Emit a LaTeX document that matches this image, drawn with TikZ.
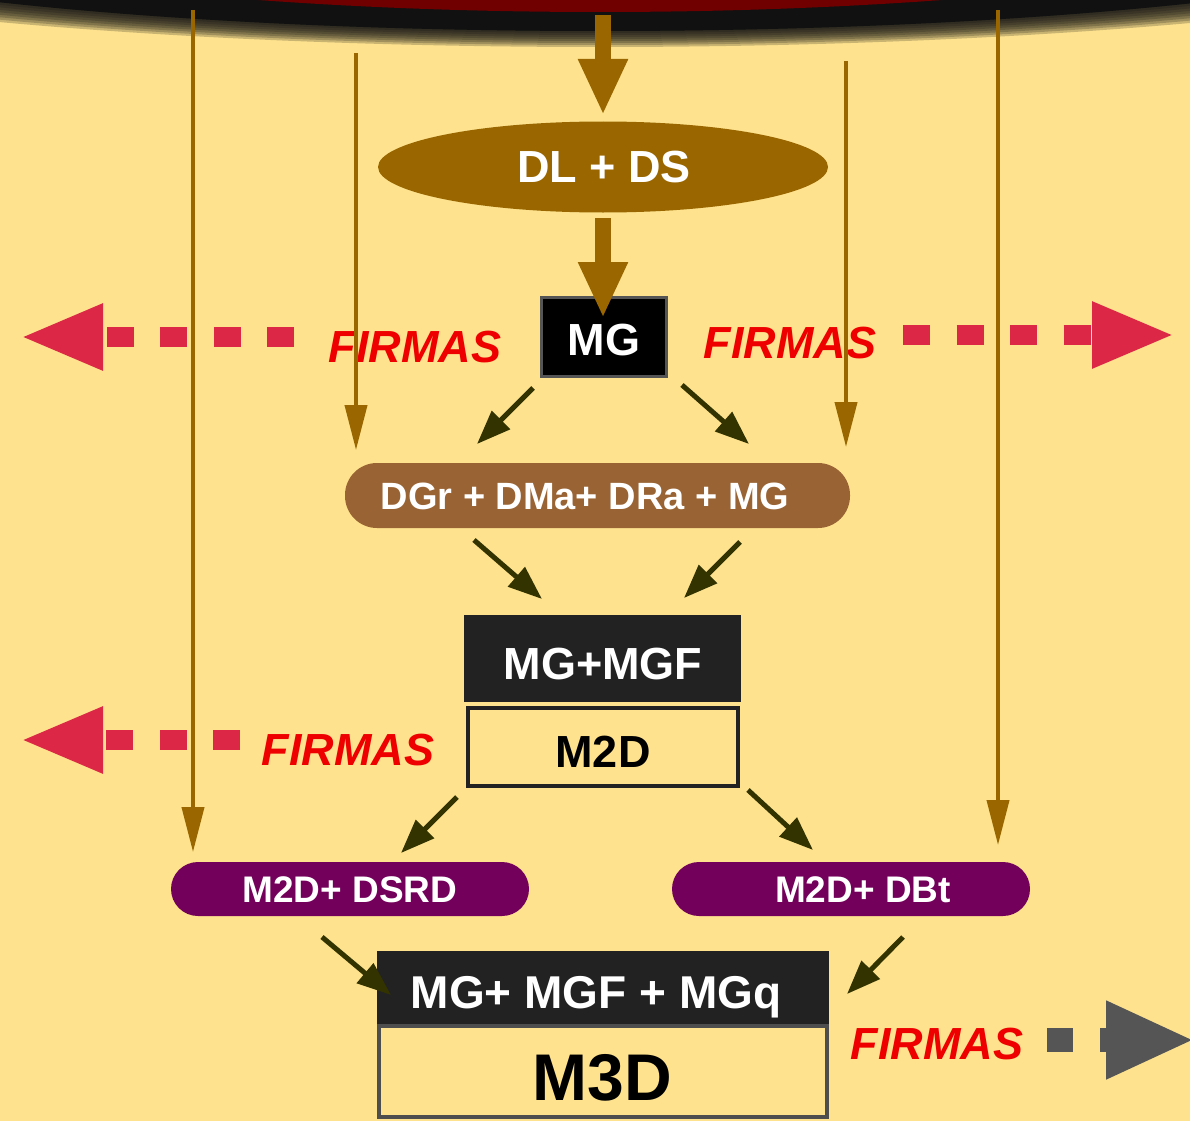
\documentclass[tikz,border=0pt]{standalone}
\usepackage{fontspec}
\setmainfont{Liberation Sans}
\usetikzlibrary{arrows.meta,shapes.geometric}
\definecolor{bg}{RGB}{254,226,142}
\definecolor{topred}{RGB}{112,0,0}
\definecolor{brn}{RGB}{153,102,0}
\definecolor{pillbrn}{RGB}{153,99,51}
\definecolor{purp}{RGB}{115,0,90}
\definecolor{olive}{RGB}{51,51,0}
\definecolor{redarr}{RGB}{220,40,70}
\definecolor{firmred}{RGB}{238,0,0}
\definecolor{grayarr}{RGB}{85,85,85}
\definecolor{dark}{RGB}{34,34,34}
\definecolor{shad}{RGB}{17,17,17}
\begin{document}
\begin{tikzpicture}[x=1pt,y=-1pt,
  txt/.style={inner sep=0pt, anchor=base, font=\bfseries},
  wtxt/.style={txt, text=white},
  firmas/.style={txt, text=firmred, font=\bfseries\itshape\fontsize{45}{50}\selectfont},
  thin/.style={draw=brn, line width=4pt, -{Triangle[width=22pt,length=45pt]}},
  thick/.style={draw=brn, line width=16pt, -{Triangle[width=46pt,length=56pt]}},
  small/.style={draw=olive, line width=5pt, -{Triangle[width=25pt,length=34pt]}},
  redline/.style={draw=redarr, line width=20pt, dash pattern=on 27pt off 26.5pt, -{Triangle[width=61pt,length=83pt]}},
  pill/.style={rounded corners=#1, inner sep=0pt},
]
\clip (0,0) rectangle (1190,1121);
\fill[bg] (0,0) rectangle (1190,1121);
% top shadow and red shape
\fill[shad] (600,-101) ellipse [x radius={132*7.3pt}, y radius=132pt];
\foreach \i in {0,...,8} {
  \fill[shad, opacity=0.22] (600,-101) ellipse [x radius={(132+2*\i)*7.3pt}, y radius={(132+2*\i)*1pt}];
}
\fill[topred] (600,-188) ellipse [x radius=1000pt, y radius=200pt];

% nodes
\node[ellipse, fill=brn, minimum width=450pt, minimum height=91pt, inner sep=0pt] (dlds) at (603,167) {};
\node[wtxt, font=\bfseries\fontsize{45}{50}\selectfont] (dldst) at (604,182) {DL + DS};

\node[draw=grayarr, line width=3pt, fill=black, minimum width=125pt, minimum height=79pt, inner sep=0pt] (mg) at (604,337) {};
\node[wtxt, font=\bfseries\fontsize{45}{50}\selectfont] (mgt) at (604,355) {MG};

\node[firmas] (fl1) at (415,362) {FIRMAS};
\node[firmas] (fr1) at (790,358) {FIRMAS};
\node[firmas] (fl2) at (348,765) {FIRMAS};
\node[firmas] (fr3) at (937,1059) {FIRMAS};

\node[pill=32pt, fill=pillbrn, minimum width=505pt, minimum height=65pt] (dgr) at (597.5,495.5) {};
\node[wtxt, font=\bfseries\fontsize{38}{44}\selectfont] (dgrt) at (585,509) {DGr + DMa+ DRa + MG};

\node[fill=dark, minimum width=277pt, minimum height=87pt, inner sep=0pt] (mgf) at (602.5,658.5) {};
\node[wtxt, font=\bfseries\fontsize{45}{50}\selectfont] (mgft) at (603,679) {MG+MGF};
\node[draw=dark, line width=4pt, fill=bg, minimum width=270pt, minimum height=78pt, inner sep=0pt] (m2d) at (603,747) {};
\node[txt, font=\bfseries\fontsize{45}{50}\selectfont] (m2dt) at (603,767) {M2D};

\node[pill=27pt, fill=purp, minimum width=358pt, minimum height=54pt] (dsrd) at (350,889) {};
\node[wtxt, font=\bfseries\fontsize{37}{42}\selectfont] (dsrdt) at (350,902) {M2D+ DSRD};
\node[pill=27pt, fill=purp, minimum width=358pt, minimum height=54pt] (dbt) at (851,889) {};
\node[wtxt, font=\bfseries\fontsize{37}{42}\selectfont] (dbtt) at (863,902) {M2D+ DBt};

\node[fill=dark, minimum width=452pt, minimum height=74pt, inner sep=0pt] (mgq) at (603,988) {};
\node[wtxt, font=\bfseries\fontsize{46}{50}\selectfont] (mgqt) at (596,1008) {MG+ MGF + MGq};
\node[draw=dark!80, line width=4pt, fill=bg, minimum width=448pt, minimum height=91pt, inner sep=0pt] (m3d) at (603,1071.5) {};
\node[txt, font=\bfseries\fontsize{66}{70}\selectfont] (m3dt) at (602,1100) {M3D};

% coordinates
\coordinate (a1s) at (603,15);   \coordinate (a1e) at (603,115);
\coordinate (a2s) at (603,218);  \coordinate (a2e) at (603,318);
\coordinate (v1s) at (193,10);   \coordinate (v1e) at (193,852);
\coordinate (v2s) at (356,53);   \coordinate (v2e) at (356,450);
\coordinate (v3s) at (846,61);   \coordinate (v3e) at (846,447);
\coordinate (v4s) at (998,10);   \coordinate (v4e) at (998,845);

\coordinate (rl1s) at (294,337); \coordinate (rl1e) at (20,337);
\coordinate (rr1s) at (903,335); \coordinate (rr1e) at (1175,335);
\coordinate (rl2s) at (240,740); \coordinate (rl2e) at (20,740);
\coordinate (gs) at (1047,1040); \coordinate (ge) at (1195,1040);

% red dashed arrows
\draw[redline] (rl1s) -- (rl1e);
\draw[redline] (rr1s) -- (rr1e);
\draw[redline] (rl2s) -- (rl2e);
\draw[draw=grayarr, line width=24pt, dash pattern=on 26pt off 27pt, -{Triangle[width=72pt,length=89pt]}] (gs) -- (ge);

% brown arrows
\draw[thin] (v1s) -- (v1e);
\draw[thin] (v2s) -- (v2e);
\draw[thin] (v3s) -- (v3e);
\draw[thin] (v4s) -- (v4e);
\draw[thick] (a1s) -- (a1e);
\draw[thick] (a2s) -- (a2e);

% small dark arrows
\draw[small] (533,388) -- (477,444);
\draw[small] (682,385) -- (749,444);
\draw[small] (474,540) -- (542,599);
\draw[small] (740,542) -- (684,598);
\draw[small] (457,797) -- (401,853);
\draw[small] (748,790) -- (813,850);
\draw[small] (322,937) -- (391,995);
\draw[small] (903,937) -- (847,994);
\end{tikzpicture}
\end{document}
